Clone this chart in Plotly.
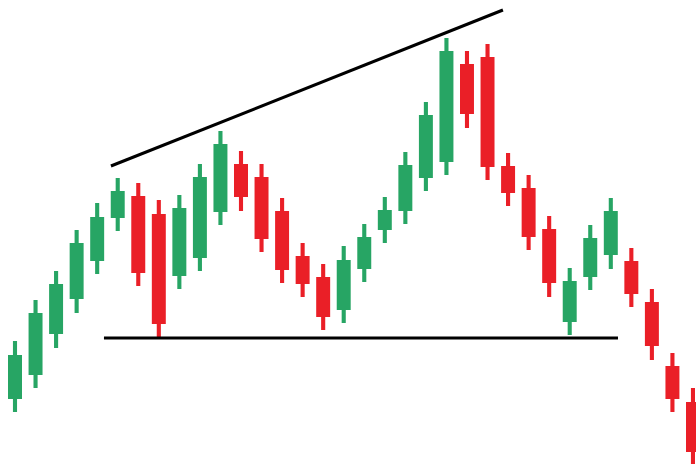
import plotly.graph_objects as go

# price levels of each candle (one candle per session)
session = list(range(34))
open_ = [65, 89, 130, 165, 203, 246, 268, 250, 188, 206, 252, 300, 287, 253, 208, 187, 154,
         195, 234, 253, 286, 302, 400, 407, 298, 276, 235, 142, 187, 209, 203, 162, 98, 62]
high = [123, 164, 193, 234, 261, 286, 281, 264, 269, 300, 333, 313, 300, 266, 221, 200, 218,
        240, 267, 312, 362, 426, 413, 420, 311, 289, 248, 196, 239, 266, 216, 175, 111, 76]
low = [52, 76, 116, 151, 190, 233, 178, 127, 175, 193, 239, 253, 212, 181, 167, 134, 141,
       182, 221, 240, 273, 289, 336, 284, 258, 214, 167, 129, 174, 195, 157, 104, 52, 0]
close = [109, 151, 180, 221, 247, 273, 191, 140, 256, 287, 320, 267, 225, 194, 180, 147, 204,
         227, 254, 299, 349, 413, 350, 297, 271, 227, 181, 183, 226, 253, 170, 118, 65, 12]

# trend lines (session, price)
resistance_x = [4.67, 23.75]
resistance_y = [298, 454]
support_x = [4.33, 29.35]
support_y = [126, 126]

GREEN = "#27a564"
RED = "#ea1f27"
colors = [GREEN if c >= o else RED for o, c in zip(open_, close)]

fig = go.Figure()

# wicks
fig.add_trace(go.Bar(
    x=session, y=[h - l for h, l in zip(high, low)], base=low,
    width=0.2, marker=dict(color=colors, line=dict(width=0)),
))
# bodies
fig.add_trace(go.Bar(
    x=session, y=[c - o for o, c in zip(open_, close)], base=open_,
    width=0.68, marker=dict(color=colors, line=dict(width=0)),
))

fig.add_trace(go.Scatter(x=resistance_x, y=resistance_y, mode="lines",
                         line=dict(color="black", width=3)))
fig.add_trace(go.Scatter(x=support_x, y=support_y, mode="lines",
                         line=dict(color="black", width=3)))

fig.update_layout(
    width=696, height=464,
    margin=dict(l=0, r=0, t=0, b=0),
    barmode="overlay",
    showlegend=False,
    hovermode=False,
    plot_bgcolor="white",
    paper_bgcolor="white",
    xaxis=dict(range=[-0.73, 33.147], visible=False),
    yaxis=dict(range=[0, 464], visible=False),
)

# drop the browser's default body margin so the figure fills the window
fig.write_html("out.html", config={"displayModeBar": False},
               post_script="document.body.style.margin='0';")
